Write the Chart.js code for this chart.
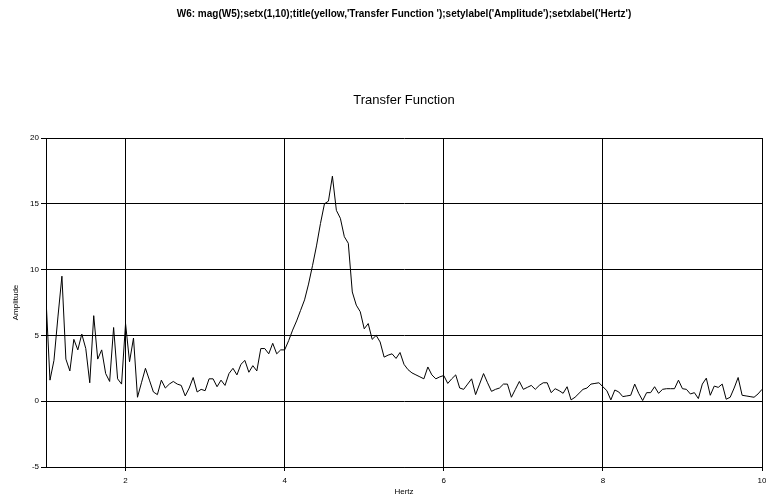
<!DOCTYPE html>
<html>
<head>
<meta charset="utf-8">
<script src="https://cdn.jsdelivr.net/npm/chart.js@4"></script>
<style>
  html, body { margin: 0; padding: 0; background: #fff; overflow: hidden; }
  #wrap { position: relative; width: 766px; height: 502px; }
</style>
</head>
<body>
<div id="wrap"><canvas id="tf"></canvas></div>
<script>
// magnitude of W5, one value per 0.05 Hz from 1 to 10 Hz
const amplitude = [
  7.8, 1.6, 3.1, 6.4, 9.5, 3.2, 2.3, 4.7, 3.9, 5.1,
  4.0, 1.4, 6.5, 3.2, 3.9, 2.1, 1.5, 5.6, 1.7, 1.3,
  5.9, 3.0, 4.8, 0.3, 1.4, 2.5, 1.6, 0.7, 0.5, 1.6,
  1.0, 1.3, 1.5, 1.3, 1.2, 0.4, 1.0, 1.8, 0.7, 0.9,
  0.8, 1.7, 1.7, 1.1, 1.6, 1.2, 2.1, 2.5, 2.0, 2.8,
  3.1, 2.2, 2.7, 2.3, 4.0, 4.0, 3.6, 4.4, 3.6, 3.9,
  3.9, 4.6, 5.4, 6.1, 6.9, 7.7, 8.9, 10.3, 11.8, 13.5,
  15.0, 15.2, 17.1, 14.5, 13.9, 12.5, 12.0, 8.3, 7.3, 6.8,
  5.5, 5.9, 4.7, 5.0, 4.5, 3.35, 3.5, 3.6, 3.25, 3.7,
  2.8, 2.4, 2.15, 2.0, 1.85, 1.7, 2.6, 2.0, 1.7, 1.85,
  1.95, 1.35, 1.7, 2.0, 1.0, 0.9, 1.3, 1.7, 0.5, 1.3,
  2.1, 1.4, 0.75, 0.9, 1.0, 1.3, 1.3, 0.3, 0.9, 1.5,
  0.9, 1.05, 1.2, 0.9, 1.2, 1.4, 1.4, 0.65, 0.95, 0.8,
  0.6, 1.1, 0.1, 0.3, 0.6, 0.9, 1.0, 1.3, 1.35, 1.4,
  1.1, 0.8, 0.1, 0.85, 0.7, 0.35, 0.4, 0.45, 1.3, 0.6,
  0.05, 0.65, 0.65, 1.1, 0.6, 0.9, 0.95, 0.95, 0.95, 1.6,
  0.95, 0.9, 0.55, 0.65, 0.2, 1.3, 1.75, 0.45, 1.15, 1.05,
  1.3, 0.15, 0.3, 1.0, 1.8, 0.45, 0.4, 0.35, 0.3, 0.55,
  0.9
];
const startHz = 1;
const stepHz = 0.05;
const hertz = amplitude.map((_, i) => +(startHz + i * stepHz).toFixed(2));

const xTicks = [2, 4, 6, 8, 10];
const yTicks = [-5, 0, 5, 10, 15, 20];

const cmdLine = "W6: mag(W5);setx(1,10);title(yellow,'Transfer Function ');setylabel('Amplitude');setxlabel('Hertz')";
const plotTitle = 'Transfer Function';

const FONT = '"Liberation Sans", Arial, sans-serif';

const points = hertz.map((h, i) => ({ x: h, y: amplitude[i] }));

new Chart(document.getElementById('tf'), {
  type: 'line',
  data: {
    datasets: [{
      data: points,
      borderColor: '#000',
      borderWidth: 1,
      pointRadius: 0,
      tension: 0,
      fill: false
    }]
  },
  options: {
    responsive: true,
    maintainAspectRatio: false,
    animation: false,
    layout: { padding: { left: 0, right: 4, top: 0, bottom: 0 } },
    plugins: {
      legend: { display: false },
      tooltip: { enabled: false },
      title: {
        display: true,
        text: cmdLine,
        fullSize: false,
        color: '#000',
        font: { family: FONT, size: 10, weight: 'bold' },
        padding: { top: 8, bottom: 0 }
      },
      subtitle: {
        display: true,
        text: plotTitle,
        fullSize: false,
        color: '#000',
        font: { family: FONT, size: 13 },
        padding: { top: 72.2, bottom: 30.2 }
      }
    },
    scales: {
      x: {
        type: 'linear',
        min: 1,
        max: 10,
        afterBuildTicks: (s) => { s.ticks = xTicks.map(v => ({ value: v })); },
        afterFit: (s) => { s.height = 35; s.paddingLeft = 0; s.paddingRight = 0; },
        ticks: {
          color: '#000',
          font: { family: FONT, size: 8 },
          padding: 5,
          maxRotation: 0,
          autoSkip: false
        },
        grid: { color: '#000', lineWidth: 1, tickLength: 4 },
        border: { color: '#000', width: 1 },
        title: {
          display: true,
          text: 'Hertz',
          color: '#000',
          font: { family: FONT, size: 8 },
          padding: { top: 0, bottom: 5 }
        }
      },
      y: {
        min: -5,
        max: 20,
        afterBuildTicks: (s) => { s.ticks = yTicks.map(v => ({ value: v })); },
        afterFit: (s) => { s.width = 46; s.paddingTop = 0; s.paddingBottom = 0; },
        ticks: {
          color: '#000',
          font: { family: FONT, size: 8 },
          padding: 2
        },
        grid: { color: '#000', lineWidth: 1, tickLength: 5 },
        border: { color: '#000', width: 1 },
        title: {
          display: true,
          text: 'Amplitude',
          color: '#000',
          font: { family: FONT, size: 8 },
          padding: { top: 11, bottom: 0 }
        }
      }
    }
  }
});
</script>
</body>
</html>
